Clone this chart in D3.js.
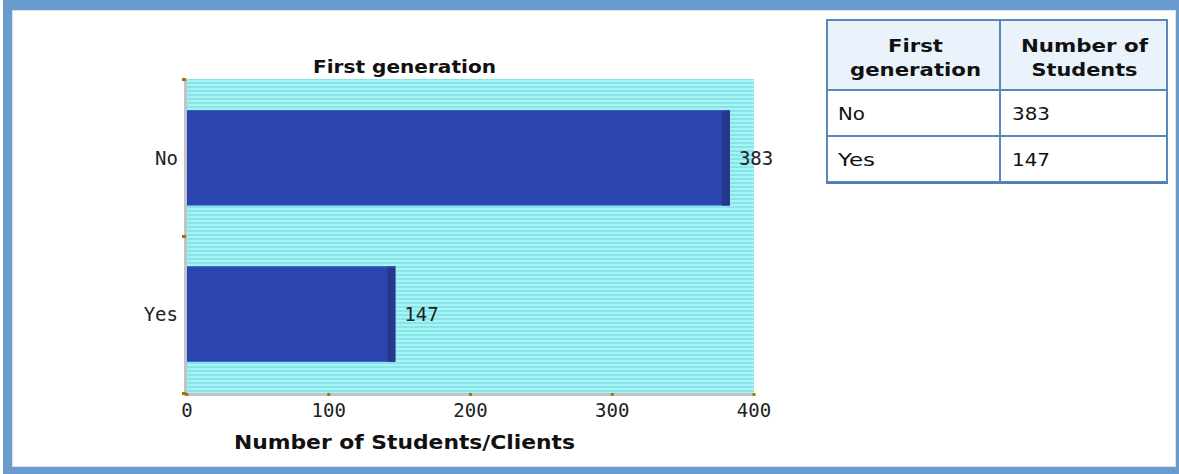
<!DOCTYPE html>
<html><head><meta charset="utf-8">
<script src="https://cdn.jsdelivr.net/npm/d3@7"></script>
<style>html,body{margin:0;padding:0;background:#fff;}svg{display:block;}</style>
</head><body>
<svg id="c" width="1179" height="474"></svg>
<script>
const categories = ["No", "Yes"];
const values = [383, 147];
const xTicks = [0, 100, 200, 300, 400];
const chartTitle = "First generation";
const xAxisTitle = "Number of Students/Clients";
const tableHeaders = [["First", "generation"], ["Number of", "Students"]];

(function(){
const svg = d3.select("#c");
const frame = "#6a9bcf";
svg.append("rect").attr("x",0).attr("y",0).attr("width",1179).attr("height",474).attr("fill","#fff");
svg.append("rect").attr("x",3).attr("y",0).attr("width",1176).attr("height",10).attr("fill",frame);
svg.append("rect").attr("x",3).attr("y",0).attr("width",9).attr("height",474).attr("fill",frame);
svg.append("rect").attr("x",1176).attr("y",0).attr("width",3).attr("height",474).attr("fill",frame);
svg.append("rect").attr("x",3).attr("y",467).attr("width",1176).attr("height",7).attr("fill",frame);
svg.append("rect").attr("x",12.5).attr("y",10.5).attr("width",1163).attr("height",456).attr("fill","none").attr("stroke","#d6e4f2").attr("stroke-width",1);

const defs = svg.append("defs");
const pat = defs.append("pattern").attr("id","stripes").attr("patternUnits","userSpaceOnUse").attr("width",8).attr("height",4);
pat.append("rect").attr("width",8).attr("height",4).attr("fill","#a5f5f5");
pat.append("rect").attr("y",2).attr("width",8).attr("height",2).attr("fill","#88e4e9");

const pLeft = 187, pRight = 754, pTop = 79, pBottom = 393;
const x = d3.scaleLinear().domain([0,400]).range([pLeft,pRight]);
const y = d3.scaleBand().domain(categories).range([pTop,pBottom]).paddingInner(0.39).paddingOuter(0.2);

svg.append("rect").attr("x",pLeft).attr("y",pTop).attr("width",pRight-pLeft).attr("height",pBottom-pTop).attr("fill","url(#stripes)");

const data = categories.map((c,i)=>({c, v: values[i]}));
const g = svg.append("g");
g.selectAll("rect.bar").data(data).join("rect").attr("class","bar")
  .attr("x",x(0)).attr("y",d=>y(d.c)).attr("width",d=>x(d.v)-x(0)).attr("height",y.bandwidth())
  .attr("fill","#2b45b0");
g.selectAll("rect.side").data(data).join("rect").attr("class","side")
  .attr("x",d=>x(d.v)-8).attr("y",d=>y(d.c)).attr("width",8).attr("height",y.bandwidth())
  .attr("fill","#24378c");
g.selectAll("line.topedge").data(data).join("line").attr("class","topedge")
  .attr("x1",x(0)).attr("x2",d=>x(d.v)).attr("y1",d=>y(d.c)+0.5).attr("y2",d=>y(d.c)+0.5)
  .attr("stroke","#3a55b8").attr("stroke-width",1);

const mono = "'DejaVu Sans Mono', monospace";
g.selectAll("text.val").data(data).join("text").attr("class","val")
  .attr("x",d=>x(d.v)+9).attr("y",d=>y(d.c)+y.bandwidth()/2).attr("dy","0.36em")
  .attr("font-family",mono).attr("font-size",19).attr("fill","#222").text(d=>d.v);

svg.append("rect").attr("x",184).attr("y",pTop).attr("width",3).attr("height",pBottom-pTop+3).attr("fill","#c4c4c4");
svg.append("rect").attr("x",184).attr("y",pBottom).attr("width",pRight-184+1).attr("height",3).attr("fill","#c4c4c4");

const yTickPos = [pTop, pTop+(pBottom-pTop)/2, pBottom];
svg.selectAll("rect.ytick").data(yTickPos).join("rect").attr("class","ytick")
  .attr("x",182).attr("y",d=>d-1).attr("width",4).attr("height",3).attr("fill","#a07a00");
svg.selectAll("text.ylab").data(categories).join("text").attr("class","ylab")
  .attr("x",178).attr("y",d=>y(d)+y.bandwidth()/2).attr("dy","0.36em").attr("text-anchor","end")
  .attr("font-family",mono).attr("font-size",19).attr("fill","#222").text(d=>d);

svg.selectAll("rect.xtick").data(xTicks).join("rect").attr("class","xtick")
  .attr("x",d=>x(d)-1.5).attr("y",pBottom).attr("width",3).attr("height",3).attr("fill","#a07a00");
svg.selectAll("text.xlab").data(xTicks).join("text").attr("class","xlab")
  .attr("x",d=>x(d)).attr("y",417).attr("text-anchor","middle")
  .attr("font-family",mono).attr("font-size",19).attr("fill","#222").text(d=>d);

const sans = "'DejaVu Sans', Verdana, sans-serif";
svg.append("text").attr("x",404.5).attr("y",73).attr("text-anchor","middle")
  .attr("font-family",sans).attr("font-weight","bold").attr("font-size",18).attr("fill","#111")
  .attr("textLength",183).attr("lengthAdjust","spacingAndGlyphs").text(chartTitle);
svg.append("text").attr("x",404.5).attr("y",449).attr("text-anchor","middle")
  .attr("font-family",sans).attr("font-weight","bold").attr("font-size",19).attr("fill","#111")
  .attr("textLength",341).attr("lengthAdjust","spacingAndGlyphs").text(xAxisTitle);

const tb = svg.append("g");
const tx0 = 827, tx1 = 1000, tx2 = 1167;
const rowsY = [20, 90, 136, 182];
const border = "#5a87b8";
tb.append("rect").attr("x",tx0).attr("y",rowsY[0]).attr("width",tx2-tx0).attr("height",rowsY[1]-rowsY[0]).attr("fill","#eaf2fb");
tb.append("rect").attr("x",tx0).attr("y",rowsY[0]).attr("width",tx2-tx0).attr("height",rowsY[3]-rowsY[0]).attr("fill","none").attr("stroke",border).attr("stroke-width",2);
tb.append("rect").attr("x",tx0-1).attr("y",rowsY[3]).attr("width",tx2-tx0+2).attr("height",2).attr("fill","#4f7fb3");
rowsY.slice(1,3).forEach(yy=>tb.append("line").attr("x1",tx0).attr("x2",tx2).attr("y1",yy).attr("y2",yy).attr("stroke",border).attr("stroke-width",2));
tb.append("line").attr("x1",tx1).attr("x2",tx1).attr("y1",rowsY[0]).attr("y2",rowsY[3]).attr("stroke",border).attr("stroke-width",2);
const colCenters = [(tx0+tx1)/2 + 2, (tx1+tx2)/2 + 1];
const headerLens = [[55, 131], [127, 106]];
tableHeaders.forEach((lines,i)=>{
  lines.forEach((t,j)=>{
    tb.append("text").attr("x",colCenters[i]).attr("y",52+j*24).attr("text-anchor","middle")
      .attr("font-family",sans).attr("font-weight","bold").attr("font-size",18).attr("fill","#111")
      .attr("textLength",headerLens[i][j]).attr("lengthAdjust","spacingAndGlyphs").text(t);
  });
});
data.forEach((d,i)=>{
  const cy = (rowsY[i+1]+rowsY[i+2])/2 + 1;
  tb.append("text").attr("x",tx0+11).attr("y",cy).attr("dy","0.36em")
    .attr("font-family",sans).attr("font-size",17.5).attr("fill","#111")
    .attr("textLength", d.c.length===2 ? 27 : 37).attr("lengthAdjust","spacingAndGlyphs").text(d.c);
  tb.append("text").attr("x",tx1+12).attr("y",cy).attr("dy","0.36em")
    .attr("font-family",sans).attr("font-size",17.5).attr("fill","#111")
    .attr("textLength",38).attr("lengthAdjust","spacingAndGlyphs").text(d.v);
});
})();
</script>
</body></html>
